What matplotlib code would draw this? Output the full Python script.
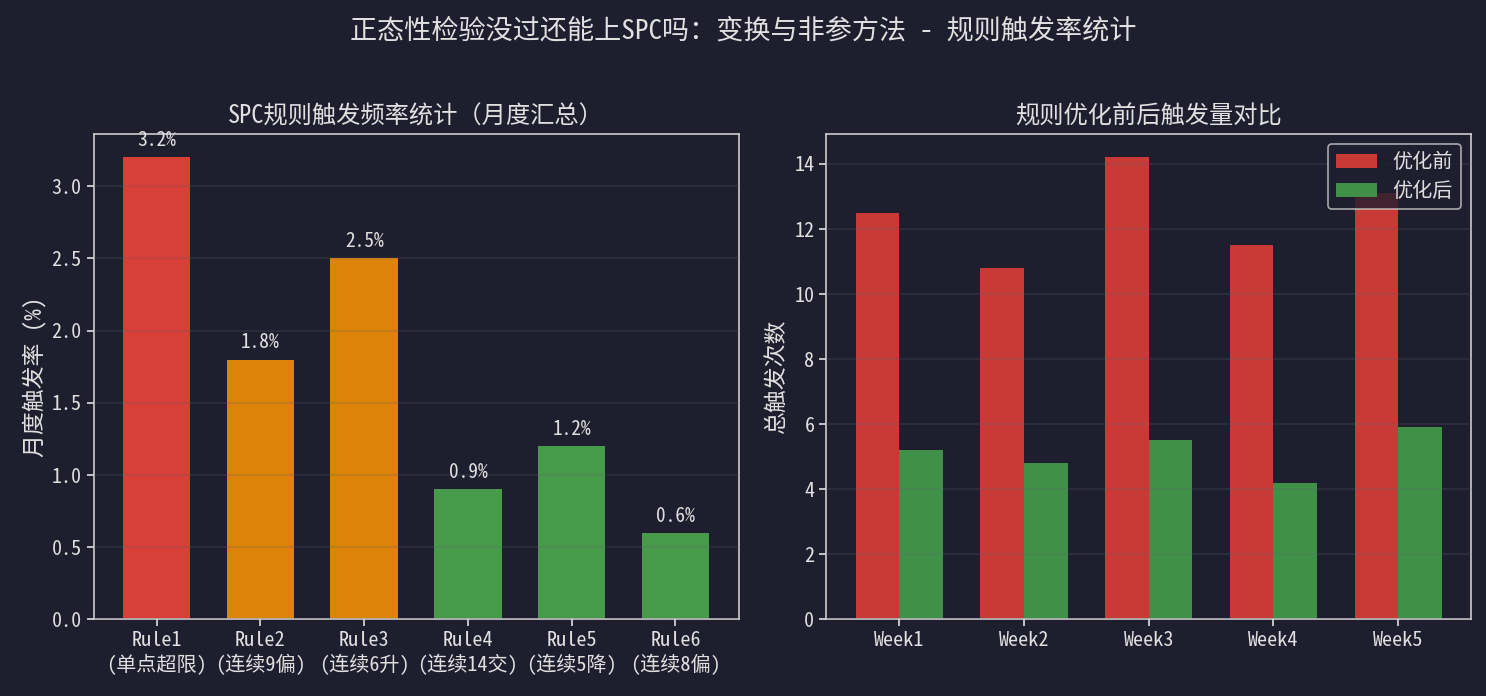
import matplotlib
matplotlib.use("Agg")
import matplotlib.pyplot as plt
import numpy as np

plt.rcParams['font.family'] = ['Noto Sans Mono CJK SC', 'Noto Sans CJK SC', 'DejaVu Sans']
plt.rcParams['axes.unicode_minus'] = False

rules = ["Rule1\n(单点超限)", "Rule2\n(连续9偏)", "Rule3\n(连续6升)",
         "Rule4\n(连续14交)", "Rule5\n(连续5降)", "Rule6\n(连续8偏)"]
rates = [3.2, 1.8, 2.5, 0.9, 1.2, 0.6]
rule_colors = ["#d73f37", "#dc8308", "#dc8308", "#469a4a", "#469a4a", "#469a4a"]

weeks = ["Week1", "Week2", "Week3", "Week4", "Week5"]
before = [12.5, 10.8, 14.2, 11.5, 13.1]
after = [5.2, 4.8, 5.5, 4.2, 5.9]

BG = "#1e1e2e"
TXT = "#e0e0e0"
SP = "#cccccc"

fig, (ax1, ax2) = plt.subplots(1, 2, figsize=(14.86, 6.96), dpi=100)
fig.patch.set_facecolor(BG)
for ax in (ax1, ax2):
    ax.set_facecolor(BG)
    for s in ax.spines.values():
        s.set_color(SP)
        s.set_linewidth(1.2)
    ax.tick_params(colors=TXT, labelsize=14.5, length=5, width=1.2)
    ax.set_axisbelow(False)

x = np.arange(len(rules))
bars = ax1.bar(x, rates, width=0.65, color=rule_colors)
for b, v in zip(bars, rates):
    ax1.text(b.get_x() + b.get_width() / 2, v + 0.05, f"{v}%", ha='center', va='bottom',
             color=TXT, fontsize=14)
ax1.set_xticks(x)
ax1.set_xticklabels(rules, linespacing=1.2)
ax1.set_ylabel("月度触发率 (%)", color=TXT, fontsize=16.5)
ax1.set_title("SPC规则触发频率统计（月度汇总）", color=TXT, fontsize=17.5, pad=8)
ax1.set_ylim(0, max(rates) * 1.05)

xw = np.arange(len(weeks))
w = 0.35
ax2.bar(xw - w / 2, before, width=w, color="#c83a35", label="优化前")
ax2.bar(xw + w / 2, after, width=w, color="#40904a", label="优化后")
ax2.set_xticks(xw)
ax2.set_xticklabels(weeks)
ax2.set_ylabel("总触发次数", color=TXT, fontsize=16.5)
ax2.set_title("规则优化前后触发量对比", color=TXT, fontsize=17.5, pad=8)

for ax in (ax1, ax2):
    ax.grid(axis='y', color='#606070', alpha=0.25, linewidth=1.2)

leg = ax2.legend(facecolor=BG, edgecolor=SP, labelcolor=TXT, fontsize=14.5, loc='upper right')
leg.get_frame().set_linewidth(1.2)

fig.suptitle("正态性检验没过还能上SPC吗：变换与非参方法 - 规则触发率统计", color=TXT,
             fontsize=19.5, y=0.975)
fig.subplots_adjust(left=0.063, right=0.99, top=0.807, bottom=0.11, wspace=0.136)
fig.savefig("out.png", dpi=100, facecolor=BG)
